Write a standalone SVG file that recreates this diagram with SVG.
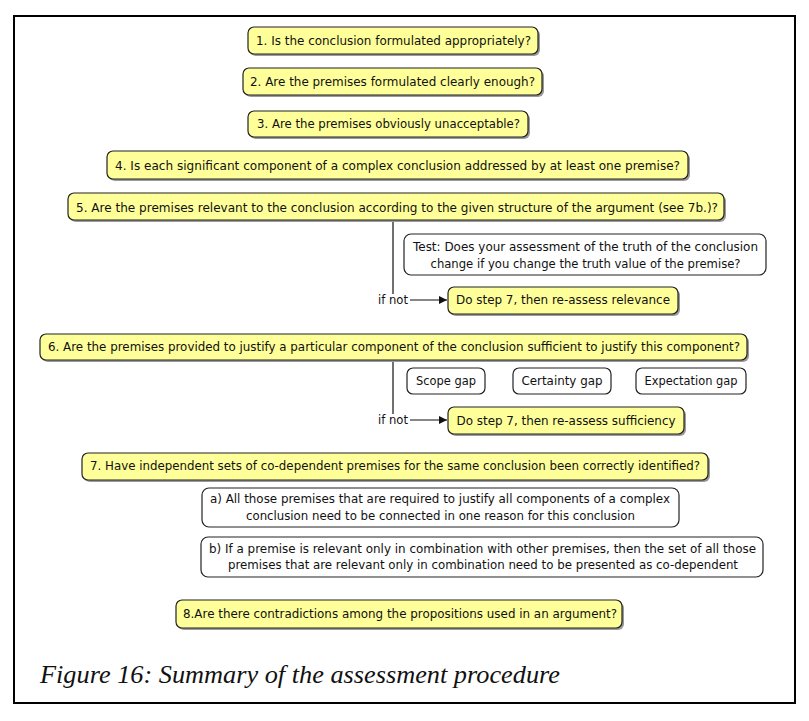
<svg xmlns="http://www.w3.org/2000/svg" width="809" height="721" viewBox="0 0 809 721">
<style>
.y{fill:#ffff99;stroke:#222;stroke-width:1.2}
.w{fill:#fff;stroke:#222;stroke-width:1.2}
.sh{fill:#9a9a9a}
text{font-family:"DejaVu Sans",Verdana,sans-serif;font-size:12px;fill:#111}
.c{text-anchor:middle}
.ln{stroke:#111;stroke-width:1.2;fill:none}
</style>
<defs>
<marker id="ah" markerWidth="8" markerHeight="8" refX="8" refY="4" orient="auto" markerUnits="userSpaceOnUse">
<path d="M0,0 L8,4 L0,8 Z" fill="#111"/>
</marker>
</defs>
<rect x="0" y="0" width="809" height="721" fill="#fff"/>
<rect x="14" y="16" width="781" height="687" fill="none" stroke="#000" stroke-width="2"/>

<g id="connectors">
<path class="ln" d="M393,221 V294"/>
<path class="ln" d="M410,300 H447" marker-end="url(#ah)"/>
<path class="ln" d="M393,360 V414"/>
<path class="ln" d="M410,420 H447" marker-end="url(#ah)"/>
</g>

<g id="n1"><rect class="sh" x="250" y="29" width="290" height="27" rx="6"/><rect class="y" x="248" y="27" width="290" height="27" rx="6"/><text class="c" x="393.5" y="45" textLength="275" lengthAdjust="spacingAndGlyphs">1. Is the conclusion formulated appropriately?</text></g>
<g id="n2"><rect class="sh" x="245" y="70" width="299" height="27" rx="6"/><rect class="y" x="243" y="68" width="299" height="27" rx="6"/><text class="c" x="392.5" y="86" textLength="285" lengthAdjust="spacingAndGlyphs">2. Are the premises formulated clearly enough?</text></g>
<g id="n3"><rect class="sh" x="250" y="113" width="280" height="26" rx="6"/><rect class="y" x="248" y="111" width="280" height="26" rx="6"/><text class="c" x="388.5" y="128" textLength="263" lengthAdjust="spacingAndGlyphs">3. Are the premises obviously unacceptable?</text></g>
<g id="n4"><rect class="sh" x="109" y="153" width="581" height="28" rx="6"/><rect class="y" x="107" y="151" width="581" height="28" rx="6"/><text class="c" x="397.5" y="170" textLength="565" lengthAdjust="spacingAndGlyphs">4. Is each significant component of a complex conclusion addressed by at least one premise?</text></g>
<g id="n5"><rect class="sh" x="70" y="195" width="656" height="27" rx="6"/><rect class="y" x="68" y="193" width="656" height="27" rx="6"/><text class="c" x="397" y="212" textLength="642" lengthAdjust="spacingAndGlyphs">5. Are the premises relevant to the conclusion according to the given structure of the argument (see 7b.)?</text></g>
<g id="test"><rect class="w" x="404" y="234" width="362" height="41" rx="7"/><text class="c" x="585.5" y="251" textLength="345" lengthAdjust="spacingAndGlyphs">Test: Does your assessment of the truth of the conclusion</text><text class="c" x="585.5" y="268" textLength="310" lengthAdjust="spacingAndGlyphs">change if you change the truth value of the premise?</text></g>
<g id="ifnot1"><text x="378" y="304" textLength="30" lengthAdjust="spacingAndGlyphs">if not</text></g>
<g id="step7a"><rect class="sh" x="450" y="289" width="230" height="27" rx="6"/><rect class="y" x="448" y="287" width="230" height="27" rx="6"/><text class="c" x="563" y="304" textLength="214" lengthAdjust="spacingAndGlyphs">Do step 7, then re-assess relevance</text></g>
<g id="n6"><rect class="sh" x="42" y="336" width="707" height="26" rx="6"/><rect class="y" x="40" y="334" width="707" height="26" rx="6"/><text class="c" x="394" y="351" textLength="692" lengthAdjust="spacingAndGlyphs">6. Are the premises provided to justify a particular component of the conclusion sufficient to justify this component?</text></g>
<g id="scope"><rect class="w" x="407" y="368" width="78" height="26" rx="6"/><text class="c" x="446" y="385" textLength="60" lengthAdjust="spacingAndGlyphs">Scope gap</text></g>
<g id="certainty"><rect class="w" x="513" y="368" width="98" height="26" rx="6"/><text class="c" x="562" y="385" textLength="81" lengthAdjust="spacingAndGlyphs">Certainty gap</text></g>
<g id="expectation"><rect class="w" x="636" y="368" width="110" height="26" rx="6"/><text class="c" x="691" y="385" textLength="93" lengthAdjust="spacingAndGlyphs">Expectation gap</text></g>
<g id="ifnot2"><text x="378" y="424" textLength="30" lengthAdjust="spacingAndGlyphs">if not</text></g>
<g id="step7b"><rect class="sh" x="450" y="409" width="236" height="27" rx="6"/><rect class="y" x="448" y="407" width="236" height="27" rx="6"/><text class="c" x="566" y="425" textLength="219" lengthAdjust="spacingAndGlyphs">Do step 7, then re-assess sufficiency</text></g>
<g id="n7"><rect class="sh" x="84" y="455" width="626" height="27" rx="6"/><rect class="y" x="82" y="453" width="626" height="27" rx="6"/><text class="c" x="395" y="470" textLength="610" lengthAdjust="spacingAndGlyphs">7. Have independent sets of co-dependent premises for the same conclusion been correctly identified?</text></g>
<g id="na"><rect class="w" x="202" y="488" width="477" height="39" rx="7"/><text class="c" x="440" y="503" textLength="460" lengthAdjust="spacingAndGlyphs">a) All those premises that are required to justify all components of a complex</text><text class="c" x="440.5" y="520" textLength="389" lengthAdjust="spacingAndGlyphs">conclusion need to be connected in one reason for this conclusion</text></g>
<g id="nb"><rect class="w" x="201" y="537" width="562" height="40" rx="7"/><text class="c" x="482.5" y="553" textLength="547" lengthAdjust="spacingAndGlyphs">b) If a premise is relevant only in combination with other premises, then the set of all those</text><text class="c" x="483" y="569" textLength="510" lengthAdjust="spacingAndGlyphs">premises that are relevant only in combination need to be presented as co-dependent</text></g>
<g id="n8"><rect class="sh" x="178" y="602" width="446" height="28" rx="6"/><rect class="y" x="176" y="600" width="446" height="28" rx="6"/><text class="c" x="400" y="618" textLength="434" lengthAdjust="spacingAndGlyphs">8.Are there contradictions among the propositions used in an argument?</text></g>
<g id="caption"><text x="40" y="683" style="font-family:'Liberation Serif','Times New Roman',serif;font-style:italic;font-size:25px" textLength="520" lengthAdjust="spacingAndGlyphs">Figure 16: Summary of the assessment procedure</text></g>
</svg>
